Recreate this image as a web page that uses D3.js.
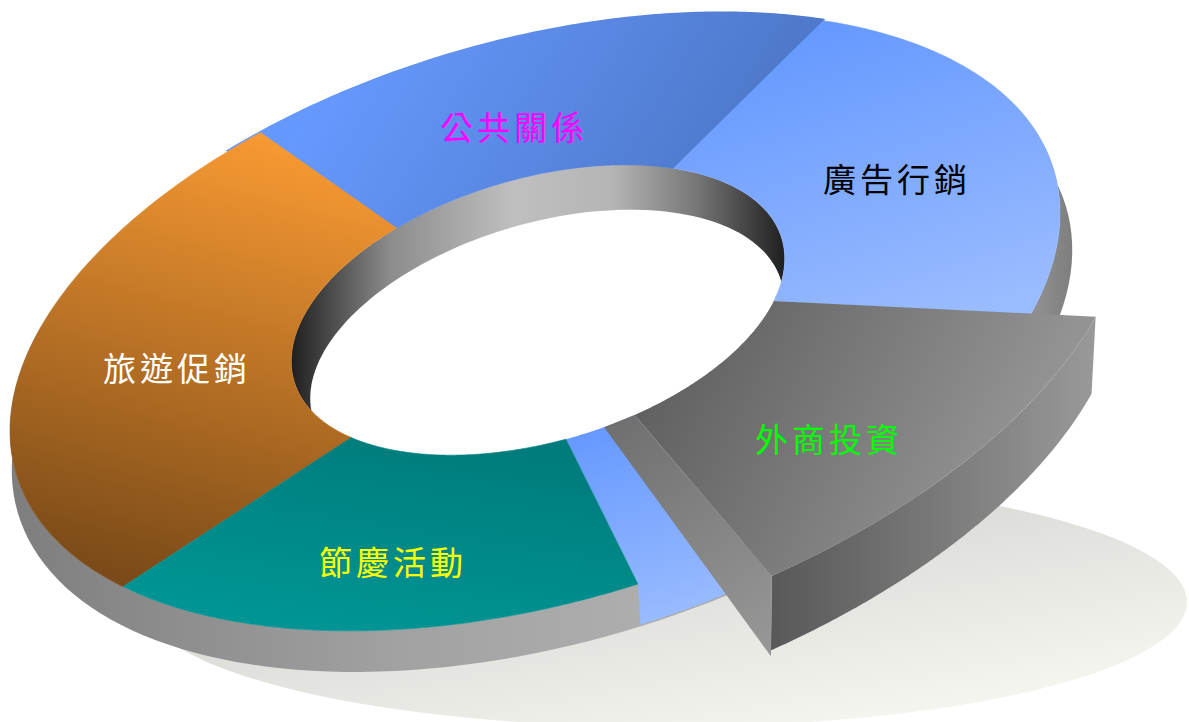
<!DOCTYPE html>
<html lang="zh-Hant">
<head>
<meta charset="utf-8">
<title>行銷預算分配</title>
<script src="https://cdn.jsdelivr.net/npm/d3@7/dist/d3.min.js"></script>
<style>
html,body{margin:0;padding:0;background:#fff;overflow:hidden}
svg{display:block}
text{font-family:"Noto Sans CJK TC","Noto Sans CJK SC",sans-serif;font-weight:400;text-anchor:middle;dominant-baseline:central}
</style>
</head>
<body>
<svg id="chart" width="1189" height="722"></svg>
<script>
// Slices run clockwise from the pulled-out wedge; the narrow blue slice carries no label.
const categories = ["外商投資", "", "節慶活動", "旅遊促銷", "公共關係", "廣告行銷"];
const shares = [13.1, 3.4, 17.5, 26.9, 18.0, 21.1];
const labelColors = ["#00ff00", "none", "#ffff00", "#ffffff", "#ff00ff", "#000000"];
const sliceGradients = ["wedgeTop", "sliver", "teal", "orange", "royal", "sky"];

const deg = Math.PI / 180;
const HOLE = 0.47;
const WEDGE_R = 1.133;

// Ellipse axes of the tilted disc, in pixels per unit radius.
const axisU = [525, -109];
const axisV = [0, 289];

// Perspective moves the centre of each concentric ring slightly.
const centerX = d3.scaleLinear().domain([HOLE, 1]).range([538, 535]);
const centerY = d3.scaleLinear().domain([HOLE, 1]).range([310, 322]);

const project = (r, a) => [
  centerX(r) + r * (axisU[0] * Math.cos(a) + axisV[0] * Math.sin(a)),
  centerY(r) + r * (axisU[1] * Math.cos(a) + axisV[1] * Math.sin(a))
];
// Lower rim of the outer wall and of the hole wall.
const outerBase = a => [542 + 1.01 * (axisU[0] * Math.cos(a)), 360 + 1.01 * (axisU[1] * Math.cos(a) + axisV[1] * Math.sin(a))];
const holeBase = a => [547 + 0.451 * (axisU[0] * Math.cos(a)), 349 + 0.451 * (axisU[1] * Math.cos(a) + axisV[1] * Math.sin(a))];
// Lower rim of the pulled-out wedge.
const wedgeBase = a => {
  const p = project(WEDGE_R, a);
  const c = [centerX(WEDGE_R), centerY(WEDGE_R)];
  return [c[0] + 0.99 * (p[0] - c[0]) + 1.5, c[1] + 0.99 * (p[1] - c[1]) + 77];
};

const sweep = (f, a0, a1, n = 120) => d3.range(n + 1).map(i => f(a0 + (a1 - a0) * i / n));
const path = d3.line();
const closed = pts => path(pts) + "Z";

const pie = d3.pie().sort(null).value(d => d)
  .startAngle(19.3 * deg).endAngle(19.3 * deg + 2 * Math.PI);
const arcs = pie(shares);

// The inner ends of the slice edges lean a little because of the perspective.
const innerLean = [-2.2, 0.5, 4.8, -2.5, -3.4, 0].map(d => d * deg);
const leanAt = i => innerLean[(i + arcs.length) % arcs.length];

const svg = d3.select("#chart");
const defs = svg.append("defs");

function gradient(id, [x1, y1, x2, y2], stops) {
  const g = defs.append("linearGradient").attr("id", id)
    .attr("gradientUnits", "userSpaceOnUse")
    .attr("x1", x1).attr("y1", y1).attr("x2", x2).attr("y2", y2);
  stops.forEach(([o, c]) => g.append("stop").attr("offset", o).attr("stop-color", c));
}
gradient("shadow", [1003, 507, 1038, 699], [[0, "#dddeda"], [1, "#f5f6ef"]]);
gradient("outerWall", [12, 0, 1072, 0], [[0, "#7e7e7e"], [0.12, "#8a8a8a"], [0.37, "#a2a2a2"], [0.6, "#aeaeae"], [0.97, "#8e8e8e"], [1, "#7e7e7e"]]);
gradient("holeWall", [291, 0, 785, 0], [[0, "#1f1f1f"], [0.2, "#8c8c8c"], [0.45, "#bfbfbf"], [0.65, "#b5b5b5"], [0.82, "#777777"], [1, "#1f1f1f"]]);
gradient("royal", [320, 90, 640, 282], [[0, "#6699ff"], [1, "#4f7acc"]]);
gradient("sky", [850, 20, 945, 315], [[0, "#6699ff"], [1, "#99bbff"]]);
gradient("orange", [290, 140, 170, 590], [[0, "#f99a33"], [1, "#7a4a18"]]);
gradient("teal", [420, 440, 390, 632], [[0, "#007c7c"], [1, "#009494"]]);
gradient("sliver", [590, 432, 650, 625], [[0, "#6699ff"], [1, "#99bbff"]]);
gradient("wedgeTop", [650, 350, 980, 520], [[0, "#5e5e5e"], [1, "#939393"]]);
gradient("wedgeWall", [770, 0, 1090, 0], [[0, "#585858"], [1, "#989898"]]);
gradient("wedgeCut", [600, 420, 770, 640], [[0, "#6e6e6e"], [1, "#969696"]]);

// Soft ground shadow under the ring.
svg.append("ellipse")
  .attr("cx", 665).attr("cy", 602).attr("rx", 522).attr("ry", 125)
  .attr("fill", "url(#shadow)");

// Outer wall, visible along the front of the ring.
const wallA0 = -30 * deg, wallA1 = 200 * deg;
svg.append("path")
  .attr("d", closed([...sweep(a => project(1, a), wallA0, wallA1), ...sweep(outerBase, wallA1, wallA0)]))
  .attr("fill", "url(#outerWall)");

// Hole wall with the white opening on top of it.
svg.append("path")
  .attr("d", closed(sweep(a => project(HOLE, a), 0, 2 * Math.PI, 180)))
  .attr("fill", "url(#holeWall)");
svg.append("path")
  .attr("d", closed(sweep(holeBase, 0, 2 * Math.PI, 180)))
  .attr("fill", "#ffffff");

const topFace = (rOuter, a0, a1, lean0, lean1) => closed([
  ...sweep(a => project(rOuter, a), a0, a1),
  ...sweep(a => project(HOLE, a), a1 + lean1, a0 + lean0)
]);

// The royal-blue slice sits slightly proud of its neighbours along the back rim.
const royal = arcs[4];
svg.append("path")
  .attr("d", topFace(1.006, royal.startAngle - 4.4 * deg, royal.endAngle, leanAt(4), leanAt(5)))
  .attr("fill", "url(#royal)");

// The narrow slice keeps its blue colour down its outer wall as well.
const narrow = arcs[1];
svg.append("path")
  .attr("d", closed([
    ...sweep(a => project(HOLE, a), narrow.endAngle + leanAt(2), narrow.startAngle + leanAt(1), 40),
    ...sweep(a => outerBase(a).map((v, k) => k ? v - 1.5 : v), narrow.startAngle, narrow.endAngle + 0.6 * deg, 40),
    project(1, narrow.endAngle)
  ]))
  .attr("fill", "url(#sliver)");

// Flat slices, back to front; the wedge is drawn on its own afterwards.
[3, 4, 5, 2].forEach(i => {
  const d = arcs[i];
  svg.append("path")
    .attr("d", topFace(1, d.startAngle, d.endAngle, leanAt(i), leanAt(i + 1)))
    .attr("fill", `url(#${sliceGradients[i]})`)
    .attr("stroke", `url(#${sliceGradients[i]})`).attr("stroke-width", 0.6);
});

// Pulled-out wedge: outer wall, cut face, then top.
const wedge = arcs[0];
svg.append("path")
  .attr("d", closed([...sweep(a => project(WEDGE_R, a), wedge.startAngle, wedge.endAngle), ...sweep(wedgeBase, wedge.endAngle, wedge.startAngle)]))
  .attr("fill", "url(#wedgeWall)");
const tip = wedgeBase(wedge.endAngle);
svg.append("path")
  .attr("d", closed([
    project(HOLE, wedge.endAngle + leanAt(1)),
    project(WEDGE_R, wedge.endAngle),
    [tip[0], tip[1] + 6],
    project(HOLE, wedge.endAngle + 8 * deg)
  ]))
  .attr("fill", "url(#wedgeCut)");
svg.append("path")
  .attr("d", topFace(WEDGE_R, wedge.startAngle, wedge.endAngle, leanAt(0), leanAt(1)))
  .attr("fill", "url(#wedgeTop)");

// Labels: fraction along the slice's sweep and radius on the disc.
const labelAlong = [0.613, 0, 0.5, 0.464, 0.428, 0.515];
const labelRadius = [0.838, 0, 0.79, 0.69, 0.669, 0.72];
svg.append("g").selectAll("text")
  .data(arcs.filter(d => categories[d.index]))
  .join("text")
  .attr("transform", d => {
    const a = d.startAngle + (d.endAngle - d.startAngle) * labelAlong[d.index];
    return `translate(${project(labelRadius[d.index], a)})`;
  })
  .attr("font-size", 33)
  .attr("letter-spacing", 4)
  .attr("fill", d => labelColors[d.index])
  .text(d => categories[d.index]);
</script>
</body>
</html>
